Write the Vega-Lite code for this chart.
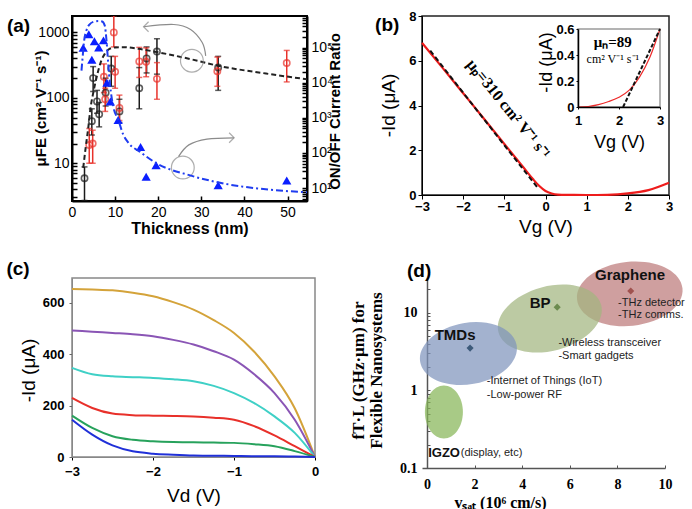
{
  "$schema": "https://vega.github.io/schema/vega-lite/v6.json",
  "autosize": {"type": "none"},
  "padding": {"left": 72, "top": 16, "right": 620, "bottom": 493},
  "background": "white",
  "config": {
    "font": "Liberation Sans",
    "axis": {"grid": false, "labelColor": "black", "titleColor": "black", "tickColor": "black", "domainColor": "black", "labelFlush": false, "labelOverlap": false}
  },
  "datasets": {
    "a_label": [{"label": "(a)", "t": -15.1, "mu": 1025}],
    "a_mu": [
      {"t": 2.9, "mu": 5.9, "lo": 2.7, "hi": 8.8, "set": "I"},
      {"t": 4.6, "mu": 44, "lo": 27, "hi": 68, "set": "I"},
      {"t": 4.9, "mu": 200, "lo": 125, "hi": 300, "set": "I"},
      {"t": 5.8, "mu": 88, "lo": 58, "hi": 130, "set": "I"},
      {"t": 6.3, "mu": 56, "lo": 36, "hi": 85, "set": "I"},
      {"t": 7.8, "mu": 120, "lo": 75, "hi": 200, "set": "I"},
      {"t": 9.1, "mu": 280, "lo": 150, "hi": 430, "set": "I"},
      {"t": 11.0, "mu": 62, "lo": 42, "hi": 95, "set": "I"},
      {"t": 15.6, "mu": 140, "lo": 68, "hi": 290, "set": "I"},
      {"t": 17.3, "mu": 400, "lo": 240, "hi": 600, "set": "I"},
      {"t": 19.7, "mu": 510, "lo": 230, "hi": 800, "set": "I"},
      {"t": 33.9, "mu": 290, "lo": 130, "hi": 430, "set": "I"},
      {"t": 4.0, "mu": 19, "lo": 10, "hi": 34, "set": "II"},
      {"t": 4.8, "mu": 20, "lo": 10, "hi": 32, "set": "II"},
      {"t": 7.4, "mu": 210, "lo": 120, "hi": 330, "set": "II"},
      {"t": 7.7, "mu": 95, "lo": 62, "hi": 140, "set": "II"},
      {"t": 9.7, "mu": 1000, "lo": 600, "hi": 1800, "set": "II"},
      {"t": 10.0, "mu": 250, "lo": 140, "hi": 430, "set": "II"},
      {"t": 11.0, "mu": 70, "lo": 45, "hi": 110, "set": "II"},
      {"t": 15.6, "mu": 360, "lo": 205, "hi": 590, "set": "II"},
      {"t": 17.2, "mu": 355, "lo": 210, "hi": 580, "set": "II"},
      {"t": 19.7, "mu": 195, "lo": 95, "hi": 345, "set": "II"},
      {"t": 33.7, "mu": 255, "lo": 150, "hi": 420, "set": "II"},
      {"t": 49.8, "mu": 340, "lo": 175, "hi": 530, "set": "II"}
    ],
    "a_fit": [
      {"t": 2.6, "mu": 8.5}, {"t": 3.2, "mu": 18}, {"t": 3.8, "mu": 36}, {"t": 4.3, "mu": 70},
      {"t": 4.9, "mu": 117}, {"t": 5.5, "mu": 180}, {"t": 6.1, "mu": 262}, {"t": 6.8, "mu": 370},
      {"t": 7.6, "mu": 470}, {"t": 8.7, "mu": 560}, {"t": 10, "mu": 590}, {"t": 12, "mu": 595},
      {"t": 15.4, "mu": 560}, {"t": 19.7, "mu": 500}, {"t": 27.5, "mu": 390}, {"t": 33.8, "mu": 310},
      {"t": 45, "mu": 235}, {"t": 54.5, "mu": 192}
    ],
    "a_circles": [{"t": 27.8, "mu": 369}, {"t": 25.7, "mu": 8.6}],
    "a_arrows": [
      {"arrow": "1", "i": 1, "t": 31.0, "mu": 438}, {"arrow": "1", "i": 2, "t": 30.2, "mu": 700},
      {"arrow": "1", "i": 3, "t": 27.5, "mu": 1110}, {"arrow": "1", "i": 4, "t": 23.6, "mu": 1320},
      {"arrow": "1", "i": 5, "t": 16.6, "mu": 1220},
      {"arrow": "2", "i": 1, "t": 24.7, "mu": 12.6}, {"arrow": "2", "i": 2, "t": 27.1, "mu": 19.1},
      {"arrow": "2", "i": 3, "t": 31.3, "mu": 23.4}, {"arrow": "2", "i": 4, "t": 37.6, "mu": 24.5}
    ],
    "a_heads": [{"t": 16.6, "mu": 1220, "dir": "left"}, {"t": 37.6, "mu": 24.5, "dir": "right"}],
    "a_ratio": [
      {"t": 2.6, "r": 98000}, {"t": 3.9, "r": 240000}, {"t": 4.6, "r": 45000}, {"t": 5.2, "r": 150000},
      {"t": 6.2, "r": 100000}, {"t": 7.3, "r": 160000}, {"t": 8.1, "r": 10000}, {"t": 8.9, "r": 2900},
      {"t": 10.7, "r": 870}, {"t": 15.9, "r": 148}, {"t": 17.2, "r": 21}, {"t": 19.5, "r": 45},
      {"t": 33.9, "r": 12}, {"t": 49.8, "r": 16.5}
    ],
    "a_ratio_fit": [
      {"t": 2.2, "r": 22000}, {"t": 2.5, "r": 60000}, {"t": 2.8, "r": 150000}, {"t": 3.4, "r": 320000},
      {"t": 4.1, "r": 460000}, {"t": 5.0, "r": 540000}, {"t": 6.1, "r": 570000}, {"t": 7.0, "r": 550000},
      {"t": 7.6, "r": 420000}, {"t": 8.0, "r": 160000}, {"t": 8.4, "r": 35000}, {"t": 8.8, "r": 9300},
      {"t": 9.6, "r": 2000}, {"t": 10.7, "r": 900}, {"t": 11.9, "r": 330}, {"t": 13.0, "r": 200},
      {"t": 15.8, "r": 107}, {"t": 19.7, "r": 50}, {"t": 27.4, "r": 23}, {"t": 35.2, "r": 13.5},
      {"t": 43, "r": 9.8}, {"t": 54.5, "r": 7.6}
    ],
    "b_label": [{"label": "(b)", "vg": -4.14, "id": 7.33}],
    "b_red": [
      {"vg": -3, "id": 6.8}, {"vg": -2.5, "id": 5.68}, {"vg": -2, "id": 4.55}, {"vg": -1.5, "id": 3.42},
      {"vg": -1, "id": 2.28}, {"vg": -0.5, "id": 1.15}, {"vg": -0.3, "id": 0.7}, {"vg": -0.15, "id": 0.4},
      {"vg": 0, "id": 0.18}, {"vg": 0.15, "id": 0.07}, {"vg": 0.3, "id": 0.02}, {"vg": 0.5, "id": 0.005},
      {"vg": 1, "id": 0}, {"vg": 1.5, "id": 0.01}, {"vg": 2, "id": 0.07}, {"vg": 2.5, "id": 0.22}, {"vg": 3, "id": 0.55}
    ],
    "b_fit": [{"vg": -2.8, "id": 6.45}, {"vg": -0.18, "id": 0.3}],
    "b_note": [{"vg": -0.9, "id": 3.85, "label": "μₚ=310 cm² V⁻¹ s⁻¹"}],
    "b_inset_frame": [{"x1": 1, "x2": 3, "y1": 0, "y2": 0.6}],
    "b_inset_red": [
      {"vg": 1, "id": 0}, {"vg": 1.25, "id": 0.004}, {"vg": 1.5, "id": 0.018}, {"vg": 1.75, "id": 0.042},
      {"vg": 2, "id": 0.075}, {"vg": 2.25, "id": 0.13}, {"vg": 2.5, "id": 0.23}, {"vg": 2.75, "id": 0.38}, {"vg": 3, "id": 0.6}
    ],
    "b_inset_fit": [{"vg": 2.1, "id": 0}, {"vg": 3, "id": 0.6}],
    "b_inset_mu": [{"vg": 1.85, "id": 0.5, "label": "μₙ=89"}],
    "b_inset_unit": [{"vg": 1.85, "id": 0.37, "label": "cm² V⁻¹ s⁻¹"}],
    "c_label": [{"label": "(c)", "vd": -3.81, "id": 709}],
    "c_curves": [
      {"curve": "1", "vd": -3, "id": 654}, {"curve": "1", "vd": -2.75, "id": 652}, {"curve": "1", "vd": -2.5, "id": 649}, {"curve": "1", "vd": -2.25, "id": 640}, {"curve": "1", "vd": -2, "id": 626}, {"curve": "1", "vd": -1.75, "id": 603}, {"curve": "1", "vd": -1.5, "id": 574}, {"curve": "1", "vd": -1.25, "id": 533}, {"curve": "1", "vd": -1, "id": 483}, {"curve": "1", "vd": -0.75, "id": 410}, {"curve": "1", "vd": -0.5, "id": 314}, {"curve": "1", "vd": -0.25, "id": 190}, {"curve": "1", "vd": 0, "id": 0},
      {"curve": "2", "vd": -3, "id": 493}, {"curve": "2", "vd": -2.75, "id": 488}, {"curve": "2", "vd": -2.5, "id": 483}, {"curve": "2", "vd": -2.25, "id": 478}, {"curve": "2", "vd": -2, "id": 470}, {"curve": "2", "vd": -1.75, "id": 456}, {"curve": "2", "vd": -1.5, "id": 438}, {"curve": "2", "vd": -1.25, "id": 412}, {"curve": "2", "vd": -1, "id": 379}, {"curve": "2", "vd": -0.75, "id": 322}, {"curve": "2", "vd": -0.5, "id": 249}, {"curve": "2", "vd": -0.25, "id": 145}, {"curve": "2", "vd": 0, "id": 0},
      {"curve": "3", "vd": -3, "id": 347}, {"curve": "3", "vd": -2.75, "id": 322}, {"curve": "3", "vd": -2.5, "id": 314}, {"curve": "3", "vd": -2.25, "id": 311}, {"curve": "3", "vd": -2, "id": 308}, {"curve": "3", "vd": -1.75, "id": 303}, {"curve": "3", "vd": -1.5, "id": 295}, {"curve": "3", "vd": -1.25, "id": 277}, {"curve": "3", "vd": -1, "id": 249}, {"curve": "3", "vd": -0.75, "id": 210}, {"curve": "3", "vd": -0.5, "id": 158}, {"curve": "3", "vd": -0.25, "id": 94}, {"curve": "3", "vd": 0, "id": 0},
      {"curve": "4", "vd": -3, "id": 230}, {"curve": "4", "vd": -2.75, "id": 191}, {"curve": "4", "vd": -2.5, "id": 169}, {"curve": "4", "vd": -2.25, "id": 163}, {"curve": "4", "vd": -2, "id": 161}, {"curve": "4", "vd": -1.75, "id": 160}, {"curve": "4", "vd": -1.5, "id": 158}, {"curve": "4", "vd": -1.25, "id": 153}, {"curve": "4", "vd": -1, "id": 145}, {"curve": "4", "vd": -0.75, "id": 120}, {"curve": "4", "vd": -0.5, "id": 84}, {"curve": "4", "vd": -0.25, "id": 42}, {"curve": "4", "vd": 0, "id": 0},
      {"curve": "5", "vd": -3, "id": 161}, {"curve": "5", "vd": -2.75, "id": 113}, {"curve": "5", "vd": -2.5, "id": 81}, {"curve": "5", "vd": -2.25, "id": 67}, {"curve": "5", "vd": -2, "id": 61}, {"curve": "5", "vd": -1.75, "id": 58}, {"curve": "5", "vd": -1.5, "id": 57}, {"curve": "5", "vd": -1.25, "id": 56}, {"curve": "5", "vd": -1, "id": 55}, {"curve": "5", "vd": -0.75, "id": 50}, {"curve": "5", "vd": -0.5, "id": 42}, {"curve": "5", "vd": -0.25, "id": 23}, {"curve": "5", "vd": 0, "id": 0},
      {"curve": "6", "vd": -3, "id": 145}, {"curve": "6", "vd": -2.75, "id": 87}, {"curve": "6", "vd": -2.5, "id": 45}, {"curve": "6", "vd": -2.25, "id": 22}, {"curve": "6", "vd": -2, "id": 13}, {"curve": "6", "vd": -1.75, "id": 9}, {"curve": "6", "vd": -1.5, "id": 6}, {"curve": "6", "vd": -1.25, "id": 5}, {"curve": "6", "vd": -1, "id": 4}, {"curve": "6", "vd": -0.75, "id": 3}, {"curve": "6", "vd": -0.5, "id": 3}, {"curve": "6", "vd": -0.25, "id": 2}, {"curve": "6", "vd": 0, "id": 0}
    ],
    "d_label": [{"label": "(d)", "v": -0.84, "f": 28.8}],
    "d_ellipses": [
      {"material": "Graphene", "v": 8.52, "f": 17.5},
      {"material": "BP", "v": 5.16, "f": 8.4},
      {"material": "TMDs", "v": 1.74, "f": 2.98},
      {"material": "IGZO", "v": 0.71, "f": 0.526}
    ],
    "d_centers": [
      {"material": "Graphene", "v": 8.56, "f": 19},
      {"material": "BP", "v": 5.47, "f": 11.8},
      {"material": "TMDs", "v": 1.81, "f": 3.5}
    ],
    "d_names": [
      {"label": "Graphene", "v": 8.53, "f": 31},
      {"label": "BP", "v": 4.75, "f": 13.4},
      {"label": "TMDs", "v": 1.18, "f": 5.2}
    ],
    "d_igzo": [{"label": "IGZO", "v": 0.05, "f": 0.158}],
    "d_apps": [
      {"label": "(display, etc)", "v": 1.42, "f": 0.158},
      {"label": "-THz detector", "v": 8.03, "f": 13.4},
      {"label": "-THz comms.", "v": 8.03, "f": 9.4},
      {"label": "-Wireless transceiver", "v": 5.52, "f": 4.1},
      {"label": "-Smart gadgets", "v": 5.52, "f": 2.76},
      {"label": "-Internet of Things (IoT)", "v": 2.51, "f": 1.31},
      {"label": "-Low-power RF", "v": 2.51, "f": 0.86}
    ]
  },
  "columns": 2,
  "bounds": "flush",
  "align": {"row": "all", "column": "none"},
  "spacing": {"row": 72, "column": 107},
  "resolve": {"scale": {"x": "independent", "y": "independent", "color": "independent", "fill": "independent", "shape": "independent"}},
  "concat": [
    {
      "width": 235,
      "height": 185,
      "view": {"stroke": "black", "strokeWidth": 2},
      "resolve": {"scale": {"y": "independent"}},
      "layer": [
        {
          "layer": [
            {
              "data": {"name": "a_mu"},
              "mark": {"type": "rule", "strokeWidth": 1.5, "clip": true},
              "encoding": {
                "x": {"field": "t", "type": "quantitative", "scale": {"domain": [0, 54.5], "nice": false},
                  "axis": {"title": "Thickness (nm)", "values": [0, 5, 10, 15, 20, 25, 30, 35, 40, 45, 50], "labelExpr": "datum.value % 10 == 0 ? datum.label : ''", "tickSize": -5, "tickWidth": 1.5, "domainWidth": 2, "labelFontSize": 14, "labelPadding": 9, "titleFontSize": 16, "titleFontWeight": "bold", "titleY": 27, "titleBaseline": "middle"}},
                "y": {"field": "lo", "type": "quantitative", "scale": {"type": "log", "domain": [2.65, 1780], "nice": false},
                  "axis": {"title": "μFE (cm² V⁻¹ s⁻¹)", "values": [3, 4, 5, 6, 7, 8, 9, 10, 20, 30, 40, 50, 60, 70, 80, 90, 100, 200, 300, 400, 500, 600, 700, 800, 900, 1000], "labelExpr": "datum.value == 10 ? '10' : datum.value == 100 ? '100' : datum.value == 1000 ? '1000' : ''", "tickSize": -5, "tickWidth": 1.5, "domainWidth": 2, "labelFontSize": 14, "labelPadding": 8, "titleFontSize": 15, "titleFontWeight": "bold", "titleX": -32, "titleY": 92, "titleAlign": "center", "titleBaseline": "middle"}},
                "y2": {"field": "hi"},
                "color": {"field": "set", "type": "nominal", "scale": {"domain": ["I", "II"], "range": ["#1a1a1a", "#e8322b"]}, "legend": null}
              }
            },
            {
              "data": {"name": "a_mu"},
              "mark": {"type": "tick", "orient": "horizontal", "size": 6, "thickness": 1.5, "clip": true},
              "encoding": {
                "x": {"field": "t", "type": "quantitative"},
                "y": {"field": "lo", "type": "quantitative"},
                "color": {"field": "set", "type": "nominal"}
              }
            },
            {
              "data": {"name": "a_mu"},
              "mark": {"type": "tick", "orient": "horizontal", "size": 6, "thickness": 1.5, "clip": true},
              "encoding": {
                "x": {"field": "t", "type": "quantitative"},
                "y": {"field": "hi", "type": "quantitative"},
                "color": {"field": "set", "type": "nominal"}
              }
            },
            {
              "data": {"name": "a_mu"},
              "mark": {"type": "point", "filled": false, "size": 40, "strokeWidth": 1.6, "clip": true},
              "encoding": {
                "x": {"field": "t", "type": "quantitative"},
                "y": {"field": "mu", "type": "quantitative"},
                "color": {"field": "set", "type": "nominal"}
              }
            },
            {
              "data": {"name": "a_fit"},
              "mark": {"type": "line", "color": "#222", "strokeWidth": 2, "strokeDash": [5, 3], "interpolate": "monotone", "clip": true},
              "encoding": {
                "x": {"field": "t", "type": "quantitative"},
                "y": {"field": "mu", "type": "quantitative"}
              }
            },
            {
              "data": {"name": "a_circles"},
              "mark": {"type": "point", "filled": false, "size": 520, "color": "#8c8c8c", "strokeWidth": 1.2},
              "encoding": {
                "x": {"field": "t", "type": "quantitative"},
                "y": {"field": "mu", "type": "quantitative"}
              }
            },
            {
              "data": {"name": "a_arrows"},
              "mark": {"type": "line", "color": "#8c8c8c", "strokeWidth": 1.2, "interpolate": "cardinal"},
              "encoding": {
                "x": {"field": "t", "type": "quantitative"},
                "y": {"field": "mu", "type": "quantitative"},
                "detail": {"field": "arrow", "type": "nominal"},
                "order": {"field": "i", "type": "quantitative"}
              }
            },
            {
              "data": {"name": "a_heads"},
              "mark": {"type": "point", "filled": false, "size": 100, "color": "#8c8c8c", "strokeWidth": 1.2},
              "encoding": {
                "x": {"field": "t", "type": "quantitative"},
                "y": {"field": "mu", "type": "quantitative"},
                "shape": {"field": "dir", "type": "nominal", "scale": {"domain": ["left", "right"], "range": ["M1,-1L0,0L1,1", "M-1,-1L0,0L-1,1"]}, "legend": null}
              }
            },
            {
              "data": {"name": "a_label"},
              "mark": {"type": "text", "fontSize": 19, "fontWeight": "bold", "align": "left", "baseline": "alphabetic", "color": "black"},
              "encoding": {
                "x": {"field": "t", "type": "quantitative"},
                "y": {"field": "mu", "type": "quantitative"},
                "text": {"field": "label"}
              }
            }
          ]
        },
        {
          "layer": [
            {
              "data": {"name": "a_ratio"},
              "mark": {"type": "point", "shape": "triangle-up", "filled": true, "size": 85, "color": "#0a1eff", "opacity": 1, "clip": true},
              "encoding": {
                "x": {"field": "t", "type": "quantitative"},
                "y": {"field": "r", "type": "quantitative", "scale": {"type": "log", "domain": [4.3, 790000], "nice": false},
                  "axis": {"orient": "right", "title": "ON/OFF Current Ratio", "values": [5, 6, 7, 8, 9, 10, 20, 30, 40, 50, 60, 70, 80, 90, 100, 200, 300, 400, 500, 600, 700, 800, 900, 1000, 2000, 3000, 4000, 5000, 6000, 7000, 8000, 9000, 10000, 20000, 30000, 40000, 50000, 60000, 70000, 80000, 90000, 100000, 200000, 300000, 400000, 500000, 600000, 700000], "labelExpr": "datum.value == 10 ? '10¹' : datum.value == 100 ? '10²' : datum.value == 1000 ? '10³' : datum.value == 10000 ? '10⁴' : datum.value == 100000 ? '10⁵' : ''", "tickSize": -5, "tickWidth": 1.5, "domainWidth": 2, "labelFontSize": 14, "labelPadding": 9, "titleFontSize": 15, "titleFontWeight": "bold", "titleAngle": 270, "titleX": 27, "titleY": 95, "titleAlign": "center", "titleBaseline": "middle"}}
              }
            },
            {
              "data": {"name": "a_ratio_fit"},
              "mark": {"type": "line", "color": "#1f3cf0", "strokeWidth": 2, "strokeDash": [7, 3, 2, 3], "interpolate": "monotone", "clip": true},
              "encoding": {
                "x": {"field": "t", "type": "quantitative"},
                "y": {"field": "r", "type": "quantitative"}
              }
            }
          ]
        }
      ]
    },
    {
      "width": 247,
      "height": 179,
      "view": {"stroke": "#222", "strokeWidth": 1.5},
      "resolve": {"scale": {"x": "independent", "y": "independent"}},
      "layer": [
        {
          "layer": [
            {
              "data": {"name": "b_red"},
              "mark": {"type": "line", "color": "#ee1c1c", "strokeWidth": 2.2, "interpolate": "monotone"},
              "encoding": {
                "x": {"field": "vg", "type": "quantitative", "scale": {"domain": [-3, 3], "nice": false},
                  "axis": {"title": "Vg (V)", "values": [-3, -2, -1, 0, 1, 2, 3], "labelExpr": "format(datum.value, 'd')", "tickSize": 4, "labelFontSize": 13, "labelFontWeight": "bold", "labelPadding": 1, "titleFontSize": 19, "titleFontWeight": "normal", "titleY": 31, "titleBaseline": "middle"}},
                "y": {"field": "id", "type": "quantitative", "scale": {"domain": [0, 8], "nice": false},
                  "axis": {"title": "-Id (μA)", "values": [0, 2, 4, 6, 8], "tickSize": 4, "labelFontSize": 13, "labelFontWeight": "bold", "labelPadding": 2, "titleFontSize": 19, "titleFontWeight": "normal", "titleX": -34, "titleY": 89, "titleAlign": "center", "titleBaseline": "middle"}}
              }
            },
            {
              "data": {"name": "b_fit"},
              "mark": {"type": "line", "color": "#111", "strokeWidth": 2, "strokeDash": [5, 3]},
              "encoding": {
                "x": {"field": "vg", "type": "quantitative"},
                "y": {"field": "id", "type": "quantitative"}
              }
            },
            {
              "data": {"name": "b_note"},
              "mark": {"type": "text", "angle": 51, "font": "Liberation Serif", "fontWeight": "bold", "fontSize": 16, "align": "center", "baseline": "middle", "color": "black"},
              "encoding": {
                "x": {"field": "vg", "type": "quantitative"},
                "y": {"field": "id", "type": "quantitative"},
                "text": {"field": "label"}
              }
            },
            {
              "data": {"name": "b_label"},
              "mark": {"type": "text", "fontSize": 19, "fontWeight": "bold", "align": "left", "baseline": "alphabetic", "color": "black"},
              "encoding": {
                "x": {"field": "vg", "type": "quantitative"},
                "y": {"field": "id", "type": "quantitative"},
                "text": {"field": "label"}
              }
            }
          ]
        },
        {
          "layer": [
            {
              "data": {"name": "b_inset_frame"},
              "mark": {"type": "rect", "fill": "white", "stroke": "#9a9a9a", "strokeWidth": 1.5},
              "encoding": {
                "x": {"field": "x1", "type": "quantitative", "scale": {"domain": [1, 3], "nice": false, "range": [156, 238]},
                  "axis": {"orient": "bottom", "offset": -88, "zindex": 1, "title": "Vg (V)", "values": [1, 2, 3], "labelExpr": "format(datum.value, 'd')", "tickSize": 2, "domainWidth": 1.5, "labelFontSize": 13, "labelFontWeight": "bold", "labelPadding": 5, "titleFontSize": 18, "titleFontWeight": "normal", "titleY": 35, "titleBaseline": "middle"}},
                "x2": {"field": "x2"},
                "y": {"field": "y1", "type": "quantitative", "scale": {"domain": [0, 0.6], "nice": false, "range": [91, 13]},
                  "axis": {"orient": "left", "offset": -156, "zindex": 1, "title": "-Id (μA)", "values": [0, 0.2, 0.4, 0.6], "labelExpr": "datum.value == 0 ? '0' : format(datum.value, '.1f')", "tickSize": 2, "domainWidth": 1.5, "labelFontSize": 13, "labelFontWeight": "bold", "labelPadding": 2, "titleFontSize": 18, "titleFontWeight": "normal", "titleX": -32, "titleY": 46, "titleAlign": "center", "titleBaseline": "middle"}},
                "y2": {"field": "y2"}
              }
            },
            {
              "data": {"name": "b_inset_red"},
              "mark": {"type": "line", "color": "#ee2a2a", "strokeWidth": 1.2, "interpolate": "monotone"},
              "encoding": {
                "x": {"field": "vg", "type": "quantitative"},
                "y": {"field": "id", "type": "quantitative"}
              }
            },
            {
              "data": {"name": "b_inset_fit"},
              "mark": {"type": "line", "color": "#111", "strokeWidth": 2, "strokeDash": [4, 2]},
              "encoding": {
                "x": {"field": "vg", "type": "quantitative"},
                "y": {"field": "id", "type": "quantitative"}
              }
            },
            {
              "data": {"name": "b_inset_mu"},
              "mark": {"type": "text", "font": "Liberation Serif", "fontWeight": "bold", "fontSize": 15, "align": "center", "baseline": "middle", "color": "black"},
              "encoding": {
                "x": {"field": "vg", "type": "quantitative"},
                "y": {"field": "id", "type": "quantitative"},
                "text": {"field": "label"}
              }
            },
            {
              "data": {"name": "b_inset_unit"},
              "mark": {"type": "text", "font": "Liberation Serif", "fontSize": 12, "align": "center", "baseline": "middle", "color": "black"},
              "encoding": {
                "x": {"field": "vg", "type": "quantitative"},
                "y": {"field": "id", "type": "quantitative"},
                "text": {"field": "label"}
              }
            }
          ]
        }
      ]
    },
    {
      "width": 243,
      "height": 179,
      "view": {"stroke": "#888", "strokeWidth": 1.5},
      "layer": [
        {
          "data": {"name": "c_curves"},
          "mark": {"type": "line", "strokeWidth": 2, "interpolate": "monotone"},
          "encoding": {
            "x": {"field": "vd", "type": "quantitative", "scale": {"domain": [-3, 0], "nice": false},
              "axis": {"title": "Vd (V)", "values": [-3, -2, -1, 0], "labelExpr": "format(datum.value, 'd')", "tickSize": 3, "domainColor": "#888", "labelFontSize": 13, "labelFontWeight": "bold", "labelPadding": 5, "titleFontSize": 19, "titleFontWeight": "normal", "titleY": 38, "titleBaseline": "middle"}},
            "y": {"field": "id", "type": "quantitative", "scale": {"domain": [0, 697], "nice": false},
              "axis": {"title": "-Id (μA)", "values": [0, 100, 200, 300, 400, 500, 600], "labelExpr": "datum.value % 200 == 0 ? datum.label : ''", "tickSize": 3, "tickColor": "#666", "domainColor": "#888", "labelFontSize": 13, "labelFontWeight": "bold", "labelPadding": 5, "titleFontSize": 19, "titleFontWeight": "normal", "titleX": -44, "titleY": 92, "titleAlign": "center", "titleBaseline": "middle"}},
            "color": {"field": "curve", "type": "nominal", "scale": {"domain": ["1", "2", "3", "4", "5", "6"], "range": ["#d4a33a", "#8a55b5", "#3fd0c6", "#e8302a", "#27a25c", "#2030d8"]}, "legend": null}
          }
        },
        {
          "data": {"name": "c_label"},
          "mark": {"type": "text", "fontSize": 19, "fontWeight": "bold", "align": "left", "baseline": "alphabetic", "color": "black"},
          "encoding": {
            "x": {"field": "vd", "type": "quantitative"},
            "y": {"field": "id", "type": "quantitative"},
            "text": {"field": "label"}
          }
        }
      ]
    },
    {
      "width": 243,
      "height": 190,
      "view": {"stroke": null},
      "layer": [
        {
          "data": {"name": "d_ellipses"},
          "mark": {"type": "point", "filled": true, "opacity": 0.72, "strokeWidth": 0, "size": 10000},
          "encoding": {
            "x": {"field": "v", "type": "quantitative", "scale": {"domain": [-0.21, 10], "nice": false},
              "axis": {"title": "vₛₐₜ (10⁶ cm/s)", "values": [0, 0.25, 0.5, 0.75, 1, 1.25, 1.5, 1.75, 2, 2.25, 2.5, 2.75, 3, 3.25, 3.5, 3.75, 4, 4.25, 4.5, 4.75, 5, 5.25, 5.5, 5.75, 6, 6.25, 6.5, 6.75, 7, 7.25, 7.5, 7.75, 8, 8.25, 8.5, 8.75, 9, 9.25, 9.5, 9.75, 10], "labelExpr": "datum.value % 2 == 0 ? format(datum.value, 'd') : ''", "tickSize": -3, "tickColor": "#555", "domainColor": "#555", "domainWidth": 1.5, "labelFont": "Liberation Serif", "labelFontSize": 14, "labelFontWeight": "bold", "labelPadding": 12, "titleFont": "Liberation Serif", "titleFontSize": 16, "titleFontWeight": "bold", "titleX": 78, "titleY": 34, "titleAlign": "center", "titleBaseline": "middle"}},
            "y": {"field": "f", "type": "quantitative", "scale": {"type": "log", "domain": [0.1, 28], "nice": false},
              "axis": {"offset": -5, "title": ["fT·L (GHz·μm) for", "Flexible Nanosystems"], "values": [0.1, 0.2, 0.3, 0.4, 0.5, 0.6, 0.7, 0.8, 0.9, 1, 2, 3, 4, 5, 6, 7, 8, 9, 10, 20], "labelExpr": "datum.value == 0.1 ? '0.1' : datum.value == 1 ? '1' : datum.value == 10 ? '10' : ''", "tickSize": -3, "tickColor": "#555", "domainColor": "#555", "domainWidth": 1.5, "labelFont": "Liberation Serif", "labelFontSize": 14, "labelFontWeight": "bold", "labelPadding": 13, "titleFont": "Liberation Serif", "titleFontSize": 17, "titleFontWeight": "bold", "titleLineHeight": 18, "titleX": -69, "titleY": 92, "titleAlign": "center", "titleBaseline": "middle"}},
            "shape": {"field": "material", "type": "nominal", "scale": {"domain": ["Graphene", "BP", "TMDs", "IGZO"], "range": [
              "M1.0542,-0.1108C1.0911,0.2407 0.6491,0.5753 0.0669,0.6365C-0.5153,0.6977 -1.0173,0.4623 -1.0542,0.1108C-1.0911,-0.2407 -0.6491,-0.5753 -0.0669,-0.6365C0.5153,-0.6977 1.0173,-0.4623 1.0542,-0.1108Z",
              "M1.0267,-0.2751C1.1188,0.0684 0.7337,0.4701 0.1667,0.622C-0.4003,0.7739 -0.9346,0.6186 -1.0267,0.2751C-1.1188,-0.0684 -0.7337,-0.4701 -0.1667,-0.622C0.4003,-0.7739 0.9346,-0.6186 1.0267,-0.2751Z",
              "M0.9641,-0.17C1.0231,0.165 0.6394,0.5127 0.1069,0.6066C-0.4256,0.7005 -0.9051,0.505 -0.9641,0.17C-1.0231,-0.165 -0.6394,-0.5127 -0.1069,-0.6066C0.4256,-0.7005 0.9051,-0.505 0.9641,-0.17Z",
              "M0.38,0C0.38,0.2927 0.2099,0.53 0,0.53C-0.2099,0.53 -0.38,0.2927 -0.38,0C-0.38,-0.2927 -0.2099,-0.53 0,-0.53C0.2099,-0.53 0.38,-0.2927 0.38,0Z"
            ]}, "legend": null},
            "fill": {"field": "material", "type": "nominal", "scale": {"domain": ["Graphene", "BP", "TMDs", "IGZO"], "range": ["#bc7a7a", "#a2b680", "#8094bc", "#87b658"]}, "legend": null}
          }
        },
        {
          "data": {"name": "d_centers"},
          "mark": {"type": "point", "shape": "diamond", "filled": true, "size": 50, "opacity": 1},
          "encoding": {
            "x": {"field": "v", "type": "quantitative"},
            "y": {"field": "f", "type": "quantitative"},
            "color": {"field": "material", "type": "nominal", "scale": {"domain": ["Graphene", "BP", "TMDs"], "range": ["#a0524f", "#6b8b4f", "#3d5a7a"]}, "legend": null}
          }
        },
        {
          "data": {"name": "d_names"},
          "mark": {"type": "text", "font": "Liberation Sans", "fontWeight": "bold", "fontSize": 15, "align": "center", "baseline": "middle", "color": "#111"},
          "encoding": {
            "x": {"field": "v", "type": "quantitative"},
            "y": {"field": "f", "type": "quantitative"},
            "text": {"field": "label"}
          }
        },
        {
          "data": {"name": "d_igzo"},
          "mark": {"type": "text", "font": "Liberation Sans", "fontWeight": "bold", "fontSize": 13, "align": "left", "baseline": "middle", "color": "#111"},
          "encoding": {
            "x": {"field": "v", "type": "quantitative"},
            "y": {"field": "f", "type": "quantitative"},
            "text": {"field": "label"}
          }
        },
        {
          "data": {"name": "d_apps"},
          "mark": {"type": "text", "font": "Liberation Sans", "fontSize": 11, "align": "left", "baseline": "middle", "color": "#222"},
          "encoding": {
            "x": {"field": "v", "type": "quantitative"},
            "y": {"field": "f", "type": "quantitative"},
            "text": {"field": "label"}
          }
        },
        {
          "data": {"name": "d_label"},
          "mark": {"type": "text", "fontSize": 19, "fontWeight": "bold", "align": "left", "baseline": "alphabetic", "color": "black"},
          "encoding": {
            "x": {"field": "v", "type": "quantitative"},
            "y": {"field": "f", "type": "quantitative"},
            "text": {"field": "label"}
          }
        }
      ]
    }
  ]
}
